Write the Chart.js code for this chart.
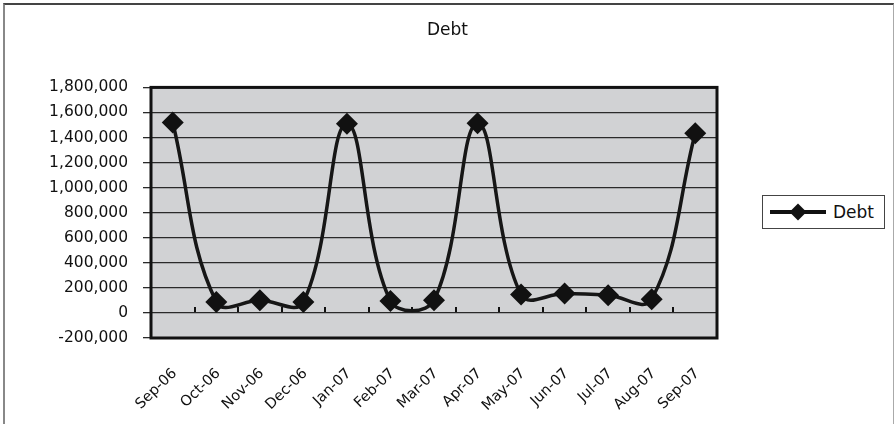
<!DOCTYPE html>
<html lang="en">
<head>
    <meta charset="utf-8" />
    <title>Debt</title>
    <script src="https://cdn.jsdelivr.net/npm/chart.js"></script>
    <style>
        body { margin: 0; background: #fff; }
        #frame {
            position: absolute; left: 3px; top: 3px; width: 891px; height: 440px;
            box-sizing: border-box;
            border-left: 2px solid #888; border-top: 2px solid #444; border-right: 1px solid #aaa;
        }
        #wrap { position: absolute; left: 0; top: 0; width: 895px; height: 424px; }
        /* legend box, Excel style */
        #legend {
            position: absolute; left: 762px; top: 195px; width: 123px; height: 34px;
            box-sizing: border-box; border: 1px solid #444; background: #fff;
            font-family: "DejaVu Sans", sans-serif; font-size: 17px; color: #111;
        }
        #legend .line { position: absolute; left: 7px; top: 14px; width: 56px; height: 4px; background: #111; }
        #legend .mark { position: absolute; left: 29px; top: 10px; width: 12px; height: 12px; background: #111; transform: rotate(45deg); }
        #legend .txt { position: absolute; left: 70px; top: 6px; }
    </style>
</head>
<body>
    <div id="frame"></div>
    <div id="wrap"><canvas id="debtChart" width="895" height="424"></canvas></div>
    <div id="legend"><div class="line"></div><div class="mark"></div><span class="txt" id="legendText"></span></div>

<script>
    // Debt - monthly values
    var months = ["Sep-06","Oct-06","Nov-06","Dec-06","Jan-07","Feb-07","Mar-07","Apr-07","May-07","Jun-07","Jul-07","Aug-07","Sep-07"];
    var debt = [1520000, 88000, 101000, 88000, 1509000, 96000, 101000, 1514000, 147000, 155000, 141000, 109000, 1434000];
    var yMin = -200000;
    var yMax = 1800000;
    var yStep = 200000;

    document.getElementById('legendText').textContent = 'Debt';

    // gray plot area + heavy black frame, like the Excel chart
    var plotFrame = {
        id: 'plotFrame',
        beforeDraw: function (chart) {
            var a = chart.chartArea, ctx = chart.ctx;
            ctx.save();
            ctx.fillStyle = '#d1d2d4';
            ctx.fillRect(a.left, a.top, a.right - a.left, a.bottom - a.top);
            ctx.restore();
        },
        afterDraw: function (chart) {
            var a = chart.chartArea, ctx = chart.ctx;
            ctx.save();
            ctx.strokeStyle = '#111';
            ctx.lineWidth = 3;
            ctx.strokeRect(a.left, a.top, a.right - a.left, a.bottom - a.top);
            ctx.restore();
        }
    };

    var ctx = document.getElementById('debtChart').getContext('2d');
    var debtChart = new Chart(ctx, {
        type: 'line',
        data: {
            labels: months,
            datasets: [{
                label: 'Debt',
                data: debt,
                borderColor: '#161616',
                backgroundColor: '#111',
                borderWidth: 3.5,
                tension: 0.4,
                pointStyle: 'rectRot',
                pointRadius: 11,
                pointBorderWidth: 0,
                pointBackgroundColor: '#111'
            }]
        },
        options: {
            responsive: false,
            animation: false,
            devicePixelRatio: 1,
            layout: { padding: 0 },
            plugins: {
                legend: { display: false },
                tooltip: { enabled: false },
                title: {
                    display: true,
                    text: 'Debt',
                    color: '#111',
                    font: { family: 'DejaVu Sans', size: 17, weight: 'normal' },
                    padding: { top: 20, bottom: 47 }
                }
            },
            scales: {
                x: {
                    offset: true,
                    grid: { display: false },
                    border: { display: false },
                    ticks: {
                        color: '#111',
                        font: { family: 'DejaVu Sans', size: 14.5 },
                        maxRotation: 44,
                        minRotation: 44,
                        autoSkip: false,
                        padding: 19,
                        labelOffset: 2
                    },
                    afterFit: function (scale) { scale.height = 86; }
                },
                // tick marks sitting on the zero line
                xZero: {
                    type: 'category',
                    labels: months,
                    position: { y: 0 },
                    offset: true,
                    grid: { offset: true, drawOnChartArea: false, tickLength: -6, color: '#111', lineWidth: 2 },
                    border: { display: false },
                    ticks: { display: false },
                    afterFit: function (scale) { scale.height = 0; }
                },
                y: {
                    min: yMin,
                    max: yMax,
                    grid: { color: '#2a2a2a', lineWidth: 1.3, tickLength: 8 },
                    border: { display: false },
                    ticks: {
                        stepSize: yStep,
                        color: '#111',
                        padding: 15,
                        font: { family: 'DejaVu Sans', size: 15.5 },
                        callback: function (value) {
                            return value.toLocaleString('en-US');
                        }
                    },
                    afterFit: function (scale) { scale.width = 151; }
                },
                // empty right-hand axis: keeps room for the legend box
                yRoom: {
                    position: 'right',
                    grid: { display: false },
                    border: { display: false },
                    ticks: { display: false },
                    afterFit: function (scale) { scale.width = 178; }
                }
            }
        },
        plugins: [plotFrame]
    });
</script>
</body>
</html>
